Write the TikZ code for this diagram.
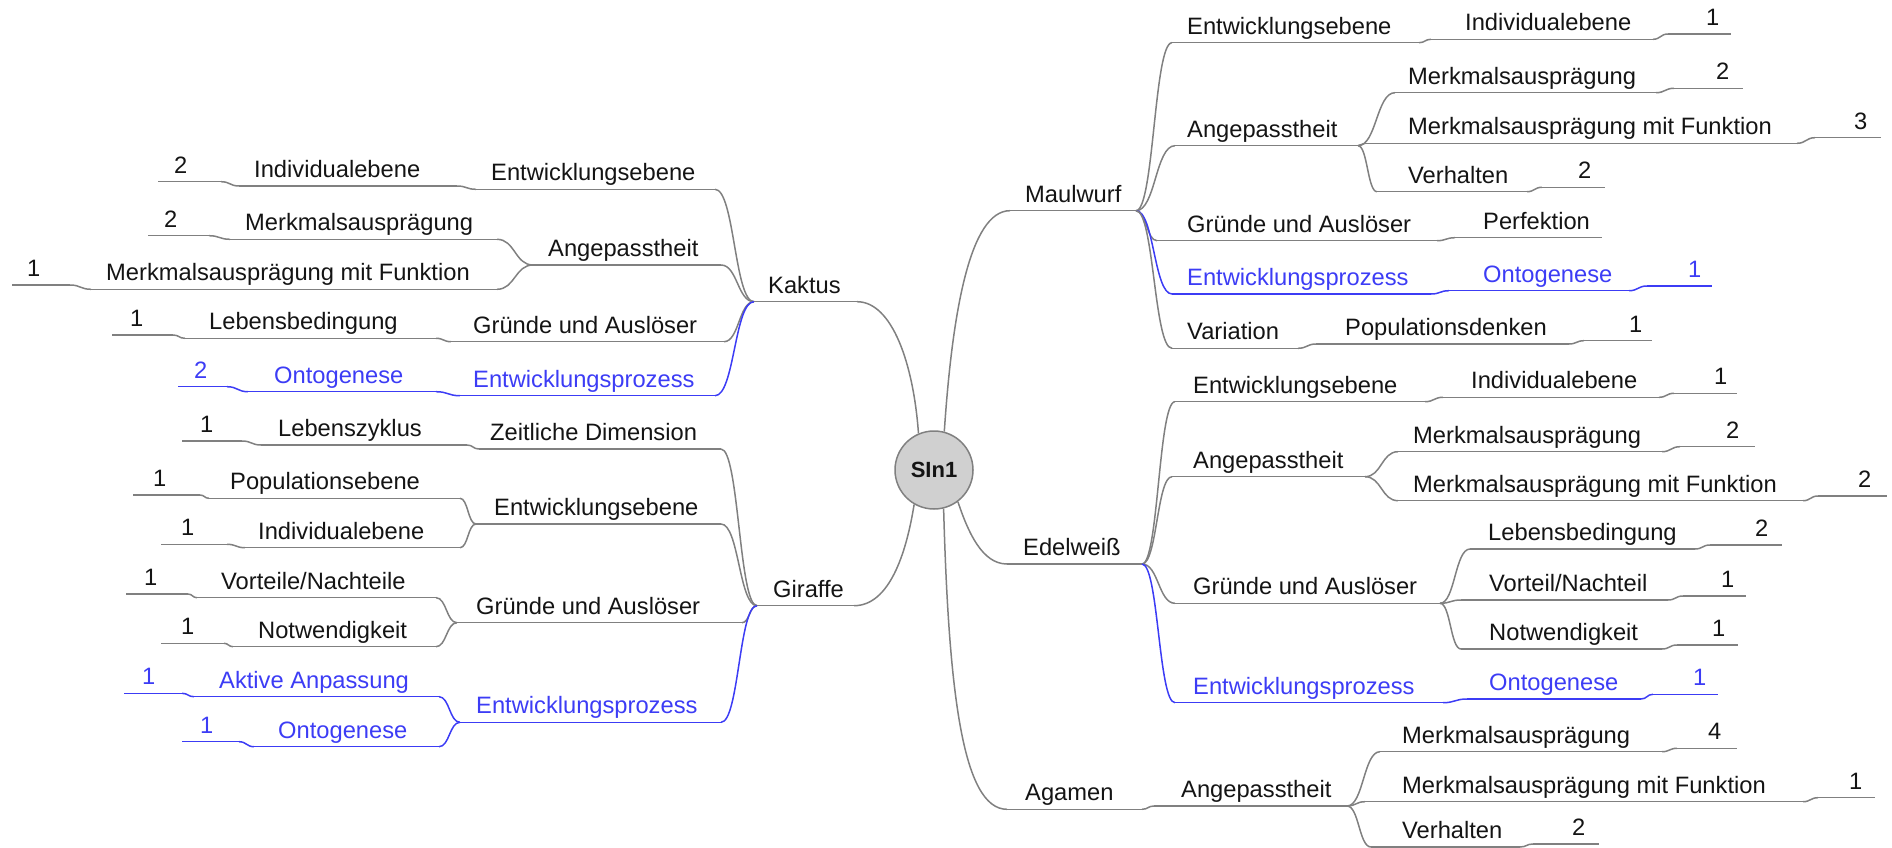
\documentclass[tikz,border=0pt]{standalone}
\usepackage{fontspec}
\setmainfont{Liberation Sans}
\usetikzlibrary{calc}
\definecolor{mmgray}{RGB}{128,128,128}
\definecolor{mmblue}{RGB}{60,60,245}
\definecolor{mmtxt}{RGB}{20,20,20}
\definecolor{rootfill}{RGB}{208,208,208}
\tikzset{
  lineg/.style={draw=mmgray,line width=1.5pt},
  lineb/.style={draw=mmblue,line width=1.5pt},
  textg/.style={text=mmtxt},
  textb/.style={text=mmblue},
  mmtext/.style={font=\fontsize{23.7}{28}\selectfont,inner sep=0pt},
}
% #1 g/b, #2 name, #3 x1, #4 x2, #5 y, #6 text x, #7 text
\newcommand{\mmseg}[7][g]{%
  \coordinate (#2-a) at (#3,#5);
  \coordinate (#2-b) at (#4,#5);
  \draw[line#1] (#2-a) -- (#2-b);
  \node[mmtext,text#1,anchor=base west] (#2) at (#6,#5-8.5) {#7};}
\newcommand{\mmlink}[3][g]{%
  \draw[line#1] let \p1=(#2), \p2=(#3) in
    (\p1) .. controls ({(\x1+\x2)/2},\y1) and ({(\x1+\x2)/2},\y2) .. (\p2);}
\begin{document}
\begin{tikzpicture}[x=1pt,y=-1pt]
\useasboundingbox (0,0) rectangle (1892,848);
\node[circle,draw=mmgray,fill=rootfill,minimum size=78pt,inner sep=0pt,line width=1.5pt,
  font=\fontsize{22}{26}\bfseries\selectfont,text=mmtxt] (root) at (934,470) {SIn1};

% ---------- Maulwurf ----------
\mmseg{m}{1010}{1136}{210.7}{1025}{Maulwurf}
\mmseg{m1}{1172}{1419}{42.7}{1187}{Entwicklungsebene}
\mmseg{m1a}{1431}{1653}{39.3}{1465}{Individualebene}
\mmseg{m1a1}{1668}{1731}{34}{1706}{1}
\mmseg{m2}{1175}{1358}{145.7}{1187}{Angepasstheit}
\mmseg{m2a}{1395}{1656}{92.7}{1408}{Merkmalsausprägung}
\mmseg{m2a1}{1674}{1743}{88.3}{1716}{2}
\mmseg{m2b}{1365}{1797}{143.3}{1408}{Merkmalsausprägung mit Funktion}
\mmseg{m2b1}{1815}{1881}{137.7}{1854}{3}
\mmseg{m2c}{1377}{1527}{191.7}{1408}{Verhalten}
\mmseg{m2c1}{1542}{1605}{187.3}{1578}{2}
\mmseg{m3}{1157}{1437}{240.7}{1187}{Gründe und Auslöser}
\mmseg{m3a}{1455}{1602}{237.7}{1483}{Perfektion}
\mmseg[b]{m4}{1172}{1431}{294}{1187}{Entwicklungsprozess}
\mmseg[b]{m4a}{1449}{1629}{290.7}{1483}{Ontogenese}
\mmseg[b]{m4a1}{1647}{1712}{286}{1688}{1}
\mmseg{m5}{1172}{1298}{348.3}{1187}{Variation}
\mmseg{m5a}{1316}{1569}{344}{1345}{Populationsdenken}
\mmseg{m5a1}{1584}{1652}{340.7}{1629}{1}

\mmlink{m-b}{m1-a}\mmlink{m-b}{m2-a}\mmlink{m-b}{m3-a}\mmlink[b]{m-b}{m4-a}\mmlink{m-b}{m5-a}
\mmlink{m1-b}{m1a-a}\mmlink{m1a-b}{m1a1-a}
\mmlink{m2-b}{m2a-a}\mmlink{m2a-b}{m2a1-a}
\mmlink{m2-b}{m2b-a}\mmlink{m2b-b}{m2b1-a}
\mmlink{m2-b}{m2c-a}\mmlink{m2c-b}{m2c1-a}
\mmlink{m3-b}{m3a-a}
\mmlink[b]{m4-b}{m4a-a}\mmlink[b]{m4a-b}{m4a1-a}
\mmlink{m5-b}{m5a-a}\mmlink{m5a-b}{m5a1-a}

% ---------- Edelweiss ----------
\mmseg{e}{1007}{1142}{564}{1023}{Edelweiß}
\mmseg{e1}{1175}{1425}{401.7}{1193}{Entwicklungsebene}
\mmseg{e1a}{1443}{1659}{397.3}{1471}{Individualebene}
\mmseg{e1a1}{1674}{1737}{393.3}{1714}{1}
\mmseg{e2}{1172}{1365}{476.7}{1193}{Angepasstheit}
\mmseg{e2a}{1398}{1662}{451.7}{1413}{Merkmalsausprägung}
\mmseg{e2a1}{1680}{1755}{446.7}{1726}{2}
\mmseg{e2b}{1398}{1803}{500.7}{1413}{Merkmalsausprägung mit Funktion}
\mmseg{e2b1}{1818}{1887}{496}{1858}{2}
\mmseg{e3}{1175}{1440}{603.3}{1193}{Gründe und Auslöser}
\mmseg{e3a}{1470}{1695}{549}{1488}{Lebensbedingung}
\mmseg{e3a1}{1710}{1782}{545}{1755}{2}
\mmseg{e3b}{1461}{1668}{600}{1489}{Vorteil/Nachteil}
\mmseg{e3b1}{1683}{1746}{596}{1721}{1}
\mmseg{e3c}{1461}{1662}{649}{1489}{Notwendigkeit}
\mmseg{e3c1}{1677}{1738}{645}{1712}{1}
\mmseg[b]{e4}{1175}{1443}{702.7}{1193}{Entwicklungsprozess}
\mmseg[b]{e4a}{1467}{1641}{699}{1489}{Ontogenese}
\mmseg[b]{e4a1}{1653}{1718}{694.3}{1693}{1}

\mmlink{e-b}{e1-a}\mmlink{e-b}{e2-a}\mmlink{e-b}{e3-a}\mmlink[b]{e-b}{e4-a}
\mmlink{e1-b}{e1a-a}\mmlink{e1a-b}{e1a1-a}
\mmlink{e2-b}{e2a-a}\mmlink{e2a-b}{e2a1-a}
\mmlink{e2-b}{e2b-a}\mmlink{e2b-b}{e2b1-a}
\mmlink{e3-b}{e3a-a}\mmlink{e3a-b}{e3a1-a}
\mmlink{e3-b}{e3b-a}\mmlink{e3b-b}{e3b1-a}
\mmlink{e3-b}{e3c-a}\mmlink{e3c-b}{e3c1-a}
\mmlink[b]{e4-b}{e4a-a}\mmlink[b]{e4a-b}{e4a1-a}

% ---------- Agamen ----------
\mmseg{a}{1007}{1142}{809.3}{1025}{Agamen}
\mmseg{a1}{1154}{1347}{806}{1181}{Angepasstheit}
\mmseg{a1a}{1380}{1662}{751.7}{1402}{Merkmalsausprägung}
\mmseg{a1a1}{1677}{1737}{748.3}{1708}{4}
\mmseg{a1b}{1365}{1803}{801.7}{1402}{Merkmalsausprägung mit Funktion}
\mmseg{a1b1}{1818}{1875}{797.7}{1849}{1}
\mmseg{a1c}{1371}{1520}{847}{1402}{Verhalten}
\mmseg{a1c1}{1533}{1599}{844}{1572}{2}

\mmlink{a-b}{a1-a}
\mmlink{a1-b}{a1a-a}\mmlink{a1a-b}{a1a1-a}
\mmlink{a1-b}{a1b-a}\mmlink{a1b-b}{a1b1-a}
\mmlink{a1-b}{a1c-a}\mmlink{a1c-b}{a1c1-a}

% ---------- Kaktus ----------
\mmseg{k}{754}{857}{301.7}{768}{Kaktus}
\mmseg{k1}{476}{715}{189.3}{491}{Entwicklungsebene}
\mmseg{k1a}{239}{457}{186}{254}{Individualebene}
\mmseg{k1a1}{158}{221}{181.7}{174}{2}
\mmseg{k2}{533}{721}{265}{548}{Angepasstheit}
\mmseg{k2a}{230}{497}{239.3}{245}{Merkmalsausprägung}
\mmseg{k2a1}{148}{209}{235.7}{164}{2}
\mmseg{k2b}{91}{497}{289.3}{106}{Merkmalsausprägung mit Funktion}
\mmseg{k2b1}{12}{70}{285}{27}{1}
\mmseg{k3}{451}{724}{341.7}{473}{Gründe und Auslöser}
\mmseg{k3a}{185}{436}{338.3}{209}{Lebensbedingung}
\mmseg{k3a1}{112}{173}{335}{130}{1}
\mmseg[b]{k4}{460}{715}{395.7}{473}{Entwicklungsprozess}
\mmseg[b]{k4a}{248}{436}{391.7}{274}{Ontogenese}
\mmseg[b]{k4a1}{178}{227}{386.7}{194}{2}

\mmlink{k-a}{k1-b}\mmlink{k-a}{k2-b}\mmlink{k-a}{k3-b}\mmlink[b]{k-a}{k4-b}
\mmlink{k1-a}{k1a-b}\mmlink{k1a-a}{k1a1-b}
\mmlink{k2-a}{k2a-b}\mmlink{k2a-a}{k2a1-b}
\mmlink{k2-a}{k2b-b}\mmlink{k2b-a}{k2b1-b}
\mmlink{k3-a}{k3a-b}\mmlink{k3a-a}{k3a1-b}
\mmlink[b]{k4-a}{k4a-b}\mmlink[b]{k4a-a}{k4a1-b}

% ---------- Giraffe ----------
\mmseg{g}{757}{854}{605.7}{773}{Giraffe}
\mmseg{g1}{479}{721}{449}{490}{Zeitliche Dimension}
\mmseg{g1a}{261}{467}{445}{278}{Lebenszyklus}
\mmseg{g1a1}{182}{242}{441}{200}{1}
\mmseg{g2}{476}{721}{524}{494}{Entwicklungsebene}
\mmseg{g2a}{209}{460}{498.3}{230}{Populationsebene}
\mmseg{g2a1}{133}{200}{495}{153}{1}
\mmseg{g2b}{245}{460}{547.7}{258}{Individualebene}
\mmseg{g2b1}{161}{227}{544.3}{181}{1}
\mmseg{g3}{457}{742}{622.7}{476}{Gründe und Auslöser}
\mmseg{g3a}{197}{436}{597.7}{221}{Vorteile/Nachteile}
\mmseg{g3a1}{126}{188}{594}{144}{1}
\mmseg{g3b}{233}{436}{646.7}{258}{Notwendigkeit}
\mmseg{g3b1}{161}{224}{643.3}{181}{1}
\mmseg[b]{g4}{460}{721}{722.3}{476}{Entwicklungsprozess}
\mmseg[b]{g4a}{194}{439}{696.7}{219}{Aktive Anpassung}
\mmseg[b]{g4a1}{124}{182}{693.3}{142}{1}
\mmseg[b]{g4b}{254}{439}{746.7}{278}{Ontogenese}
\mmseg[b]{g4b1}{182}{239}{741.7}{200}{1}

\mmlink{g-a}{g1-b}\mmlink{g-a}{g2-b}\mmlink{g-a}{g3-b}\mmlink[b]{g-a}{g4-b}
\mmlink{g1-a}{g1a-b}\mmlink{g1a-a}{g1a1-b}
\mmlink{g2-a}{g2a-b}\mmlink{g2a-a}{g2a1-b}
\mmlink{g2-a}{g2b-b}\mmlink{g2b-a}{g2b1-b}
\mmlink{g3-a}{g3a-b}\mmlink{g3a-a}{g3a1-b}
\mmlink{g3-a}{g3b-b}\mmlink{g3b-a}{g3b1-b}
\mmlink[b]{g4-a}{g4a-b}\mmlink[b]{g4a-a}{g4a1-b}
\mmlink[b]{g4-a}{g4b-b}\mmlink[b]{g4b-a}{g4b1-b}

% ---------- root links ----------
\draw[lineg] (root.75) .. controls +(8,-120) and +(-40,0) .. (m-a);
\draw[lineg] (root.113) .. controls +(-5,-70) and +(35,0) .. (k-b);
\draw[lineg] (root.240) .. controls +(-8,50) and +(35,0) .. (g-b);
\draw[lineg] (root.307) .. controls +(10,30) and +(-25,0) .. (e-a);
\draw[lineg] (root.284) .. controls +(5,180) and +(-45,0) .. (a-a);
\end{tikzpicture}
\end{document}
